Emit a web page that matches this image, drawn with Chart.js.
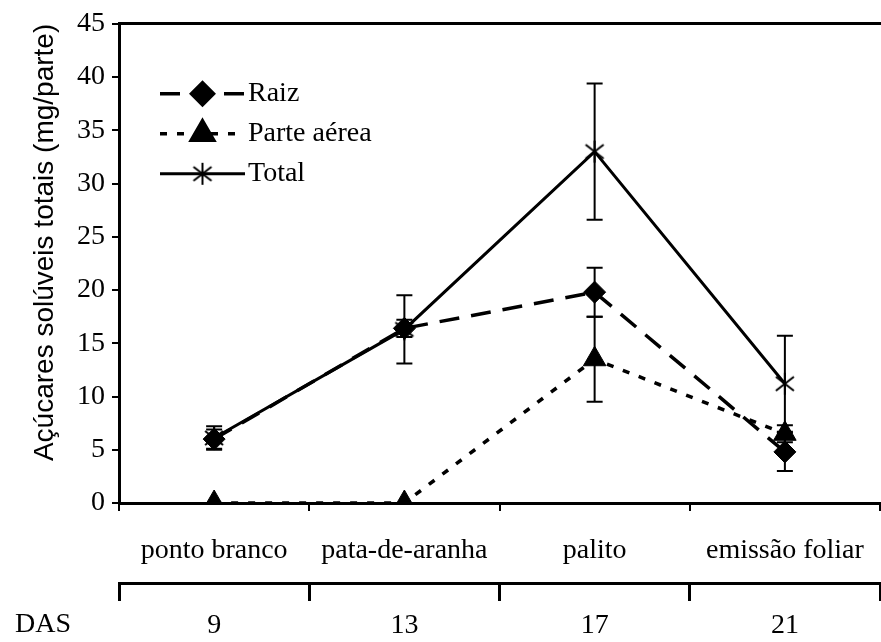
<!DOCTYPE html>
<html>
<head>
<meta charset="utf-8">
<script src="https://cdn.jsdelivr.net/npm/chart.js@4"></script>
<style>
  html, body { margin: 0; padding: 0; background: #fff; }
  #wrap { width: 881px; height: 642px; }
</style>
</head>
<body>
<div id="wrap"><canvas id="chart"></canvas></div>
<script>
const stages = ['ponto branco', 'pata-de-aranha', 'palito', 'emissão foliar'];
const dasLabels = ['9', '13', '17', '21'];

const raiz = [6.0, 16.4, 19.8, 4.8];
const raizErr = [0.9, 0.8, 2.3, 1.8];
const parteAerea = [0.0, 0.0, 13.5, 6.5];
const parteAereaErr = [0, 0, 4.0, 0.8];
const total = [6.1, 16.3, 33.0, 11.2];
const totalErr = [1.1, 3.2, 6.4, 4.5];

const yTicks = [0, 5, 10, 15, 20, 25, 30, 35, 40, 45];

const serif = '"Liberation Serif", "Times New Roman", serif';
const sans = '"Liberation Sans", Arial, sans-serif';

// asterisk marker like the Excel "star"
const star = document.createElement('canvas');
star.width = 24;
star.height = 24;
const s = star.getContext('2d');
s.strokeStyle = '#000';
s.lineWidth = 2;
s.beginPath();
s.moveTo(3, 5); s.lineTo(21, 19);
s.moveTo(21, 5); s.lineTo(3, 19);
s.moveTo(12, 1); s.lineTo(12, 23);
s.stroke();

const errorBars = {
    id: 'errorBars',
    afterDatasetsDraw(chart) {
        const ctx = chart.ctx;
        const x = chart.scales.x, y = chart.scales.y;
        chart.data.datasets.forEach(ds => {
            if (!ds.errors) return;
            ctx.save();
            ctx.strokeStyle = '#000';
            ctx.lineWidth = 2;
            ds.data.forEach((v, i) => {
                const e = ds.errors[i];
                if (!e) return;
                const px = x.getPixelForValue(i);
                const top = y.getPixelForValue(v + e);
                const bot = y.getPixelForValue(v - e);
                ctx.beginPath();
                ctx.moveTo(px, top); ctx.lineTo(px, bot);
                ctx.moveTo(px - 8, top); ctx.lineTo(px + 8, top);
                ctx.moveTo(px - 8, bot); ctx.lineTo(px + 8, bot);
                ctx.stroke();
            });
            ctx.restore();
        });
    }
};

// legend with line sample + marker, drawn inside the plot
const lineLegend = {
    id: 'lineLegend',
    afterDraw(chart) {
        const ctx = chart.ctx;
        const a = chart.chartArea;
        const x0 = a.left + 41, x1 = a.left + 126;
        chart.data.datasets.forEach((ds, i) => {
            const yy = a.top + 70 + i * 40;
            ctx.save();
            ctx.strokeStyle = '#000';
            ctx.lineWidth = ds.borderWidth;
            ctx.setLineDash(ds.borderDash || []);
            ctx.beginPath();
            ctx.moveTo(x0, yy); ctx.lineTo(x1, yy);
            ctx.stroke();
            ctx.setLineDash([]);
            Chart.helpers.drawPoint(ctx, {
                pointStyle: ds.pointStyle,
                radius: ds.pointRadius,
                borderWidth: 1
            }, (x0 + x1) / 2, yy);
            ctx.fillStyle = '#000';
            ctx.font = '28px ' + serif;
            ctx.textBaseline = 'middle';
            ctx.fillText(ds.label, x1 + 3, yy);
            ctx.restore();
        });
        // DAS caption at the left of the second axis
        const x2 = chart.scales.x2;
        ctx.save();
        ctx.fillStyle = '#000';
        ctx.font = '28px ' + serif;
        ctx.textBaseline = 'middle';
        ctx.fillText('DAS', 15, x2.top + 42);
        ctx.restore();
    }
};

const data = {
    labels: stages,
    datasets: [
        {
            label: 'Raiz',
            data: raiz,
            errors: raizErr,
            borderColor: '#000',
            backgroundColor: '#000',
            borderWidth: 3.5,
            borderDash: [20, 12],
            pointStyle: 'rectRot',
            pointRadius: 11,
            pointBorderWidth: 1
        },
        {
            label: 'Parte aérea',
            data: parteAerea,
            errors: parteAereaErr,
            borderColor: '#000',
            backgroundColor: '#000',
            borderWidth: 3.5,
            borderDash: [7, 10],
            pointStyle: 'triangle',
            pointRadius: 13,
            pointBorderWidth: 1
        },
        {
            label: 'Total',
            data: total,
            errors: totalErr,
            borderColor: '#000',
            backgroundColor: '#000',
            borderWidth: 3,
            pointStyle: star,
            pointRadius: 12
        }
    ]
};

const config = {
    type: 'line',
    data: data,
    options: {
        responsive: true,
        maintainAspectRatio: false,
        animation: false,
        layout: { autoPadding: false, padding: { top: 14, right: 1, bottom: 0, left: 28 } },
        plugins: {
            legend: { display: false },
            tooltip: { enabled: false }
        },
        scales: {
            x: {
                type: 'category',
                offset: true,
                grid: {
                    drawOnChartArea: false, offset: true, color: '#000', lineWidth: 2,
                    tickLength: 31, tickBorderDash: [6, 60]
                },
                border: { color: '#000', width: 3 },
                ticks: { color: '#000', font: { family: serif, size: 28 }, padding: 0, maxRotation: 0, autoSkip: false },
                afterFit: (axis) => { axis.height = 80; }
            },
            x2: {
                type: 'category',
                position: 'bottom',
                weight: 10,
                labels: dasLabels,
                offset: true,
                grid: { drawOnChartArea: false, offset: true, color: '#000', lineWidth: 3, tickLength: 18 },
                border: { color: '#000', width: 3 },
                ticks: { color: '#000', font: { family: serif, size: 28 }, padding: 8, maxRotation: 0 },
                afterFit: (axis) => { axis.height = 59; }
            },
            top: {
                type: 'category',
                position: 'top',
                labels: stages,
                grid: { display: false, drawTicks: false },
                border: { color: '#000', width: 3 },
                ticks: { display: false, padding: 0 }
            },
            y: {
                min: 0,
                max: 45,
                afterBuildTicks: (axis) => { axis.ticks = yTicks.map(v => ({ value: v })); },
                grid: { drawOnChartArea: false, color: '#000', lineWidth: 2, tickLength: 7 },
                border: { color: '#000', width: 3 },
                ticks: { color: '#000', font: { family: serif, size: 28 }, padding: 7 },
                title: {
                    display: true,
                    text: 'Açúcares solúveis totais (mg/parte)',
                    color: '#000',
                    align: 'end',
                    font: { family: sans, size: 28 },
                    padding: { top: 0, bottom: 0 }
                },
                afterFit: (axis) => { axis.width = 91; }
            }
        }
    },
    plugins: [errorBars, lineLegend]
};

const chart = new Chart(document.getElementById('chart'), config);
</script>
</body>
</html>
